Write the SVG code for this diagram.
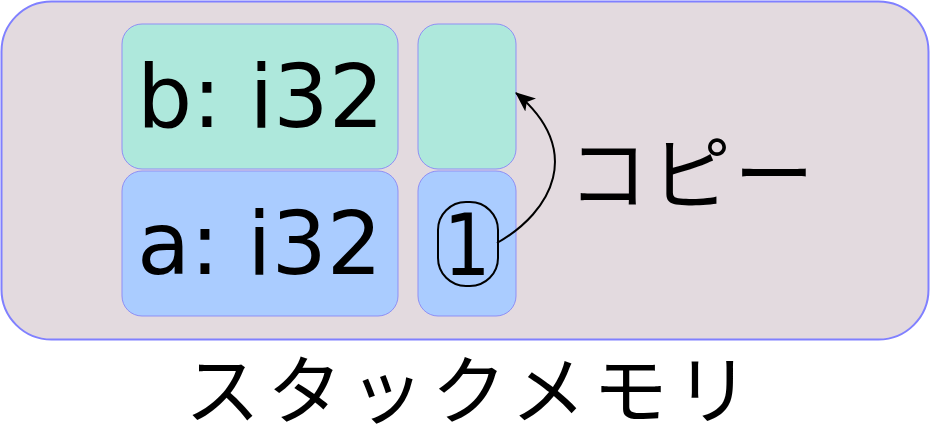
<svg xmlns="http://www.w3.org/2000/svg" width="930" height="430" viewBox="0 0 930 430">
<style>
.cell{stroke:#8f8ff5;stroke-width:1}
.lbl{font-family:"DejaVu Sans","Noto Sans CJK JP",sans-serif;fill:#000}
.jp{font-family:"Noto Sans CJK JP",sans-serif;fill:#000}
</style>
<defs>
<marker id="ah" viewBox="0 0 10 10" refX="9.5" refY="5" markerWidth="20" markerHeight="20" markerUnits="userSpaceOnUse" orient="auto">
<path d="M0,0.8 L10,5 L0,9.2 L2.5,5 Z" fill="#000"/>
</marker>
</defs>
<g id="stack">
<rect x="1.5" y="1.5" width="927" height="338" rx="50" fill="#e3dadf" stroke="#8080ff" stroke-width="2"/>
</g>
<g id="b">
<rect class="cell" x="122" y="24" width="276" height="145" rx="20" fill="#aee8dc"/>
<text class="lbl" x="137" y="127" font-size="87">b: i32</text>
</g>
<g id="b-slot">
<rect class="cell" x="418" y="24" width="98" height="145" rx="20" fill="#aee8dc"/>
</g>
<g id="a">
<rect class="cell" x="122" y="171" width="276" height="145" rx="20" fill="#aaccff"/>
<text class="lbl" x="137" y="274" font-size="87">a: i32</text>
</g>
<g id="a-slot">
<rect class="cell" x="418" y="171" width="98" height="145" rx="20" fill="#aaccff"/>
<rect x="438" y="202" width="60" height="84" rx="28" fill="none" stroke="#000" stroke-width="2"/>
<text class="lbl" transform="translate(467,275) scale(0.87,1)" x="0" y="0" font-size="85" text-anchor="middle">1</text>
</g>
<g id="connectors">
<path d="M497,243 C552,212 585,150 516,93" fill="none" stroke="#000" stroke-width="2" marker-end="url(#ah)"/>
</g>
<text class="jp" x="568" y="203" font-size="80" textLength="246" lengthAdjust="spacing">コピー</text>
<text class="jp" x="185" y="418" font-size="75" textLength="565" lengthAdjust="spacing">スタックメモリ</text>
</svg>
